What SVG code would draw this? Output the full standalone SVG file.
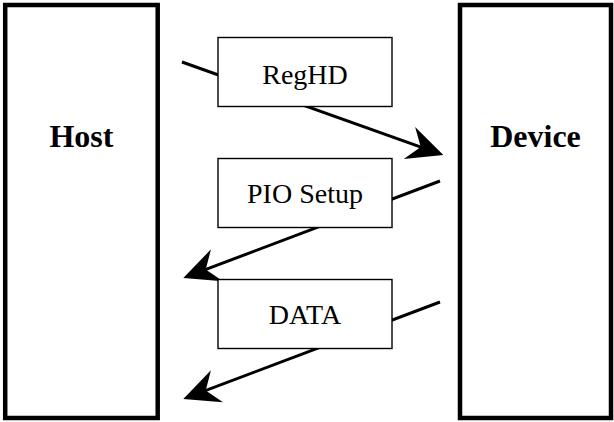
<svg xmlns="http://www.w3.org/2000/svg" width="614" height="422" viewBox="0 0 614 422">
  <defs>
    <style>
      .big { fill: #fff; stroke: #000; stroke-width: 4.5; }
      .msg { fill: #fff; stroke: #000; stroke-width: 1.4; }
      .title { font-family: "Liberation Serif", "Times New Roman", serif; font-weight: bold; font-size: 32px; text-anchor: middle; fill: #000; }
      .label { font-family: "Liberation Serif", "Times New Roman", serif; font-size: 28px; text-anchor: middle; fill: #000; }
      .conn { stroke: #000; stroke-width: 3; fill: none; marker-end: url(#head); }
    </style>
    <marker id="head" markerUnits="userSpaceOnUse" viewBox="-40 -20 62 40" markerWidth="62" markerHeight="40" refX="0" refY="0" orient="auto">
      <path d="M20,0 L-16,-17 L-4,0 L-16,17 Z" fill="#000"/>
    </marker>
  </defs>
  <rect width="614" height="422" fill="#fff"/>
  <g id="host">
    <rect class="big" x="5.2" y="5" width="152.5" height="413"/>
    <text class="title" x="81.4" y="147">Host</text>
  </g>
  <g id="device">
    <rect class="big" x="460" y="5" width="151" height="413"/>
    <text class="title" x="535.5" y="147">Device</text>
  </g>
  <g id="connectors">
    <line class="conn" x1="182" y1="62" x2="424.5" y2="148.3"/>
    <line class="conn" x1="440" y1="181" x2="202" y2="270.9"/>
    <line class="conn" x1="440" y1="302" x2="202" y2="391.9"/>
  </g>
  <g id="reghd">
    <rect class="msg" x="218" y="37.5" width="174" height="69"/>
    <text class="label" x="305" y="84">RegHD</text>
  </g>
  <g id="pio-setup">
    <rect class="msg" x="218" y="158.5" width="174" height="69"/>
    <text class="label" x="305" y="203">PIO Setup</text>
  </g>
  <g id="data">
    <rect class="msg" x="218" y="279.5" width="174" height="69"/>
    <text class="label" x="305" y="324">DATA</text>
  </g>
</svg>
